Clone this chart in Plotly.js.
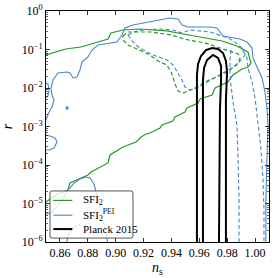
<!DOCTYPE html>
<html>
<head>
<meta charset="utf-8">
<script src="https://cdn.plot.ly/plotly-3.0.1.min.js"></script>
<style>html,body{margin:0;padding:0;background:#fff;}#chart{width:276px;height:278px;}</style>
</head>
<body>
<div id="chart"></div>
<script>
// ---- data (n_s, r) ----
// SFI2, outer (solid) contour
var sfi2Outer_ns = [0.8500,0.8643,0.8751,0.8945,0.8966,0.9052,0.9167,0.9289,0.9368,0.9447,0.9605,0.9655,0.9763,0.9870,0.9949,0.9971,0.9949,0.9906,0.9842,0.9806,0.9763,0.9713,0.9691,0.9605,0.9591,0.9512,0.9497,0.9426,0.9411,0.9332,0.9318,0.9246,0.9217,0.9182,0.9146,0.9052,0.8959,0.8945,0.8823,0.8801,0.8672,0.8658,0.8572,0.8500];
var sfi2Outer_r  = [0.0720,0.103,0.116,0.187,0.268,0.321,0.341,0.321,0.303,0.268,0.211,0.199,0.166,0.123,0.0861,0.0446,0.0351,0.0312,0.0218,0.0143,0.0120,0.0100,0.00658,0.00518,0.00408,0.00303,0.00238,0.00177,0.00139,0.00109,0.000914,0.000678,0.000638,0.000534,0.000396,0.000294,0.000182,0.000113,6.58e-5,5.50e-5,3.41e-5,2.24e-5,1.66e-5,1.09e-5];
// SFI2, inner (dashed) contour
var sfi2Inner_ns = [0.9052,0.9088,0.9174,0.9253,0.9397,0.9519,0.9641,0.9734,0.9835,0.9878,0.9892,0.9878,0.9820,0.9756,0.9655,0.9569,0.9519,0.9483,0.9447,0.9426,0.9404,0.9368,0.9318,0.9232,0.9153,0.9088,0.9052,0.9052];
var sfi2Inner_r  = [0.224,0.285,0.285,0.285,0.238,0.177,0.148,0.116,0.0861,0.0764,0.0601,0.0446,0.0294,0.0218,0.0152,0.0100,0.00836,0.00741,0.00836,0.0127,0.0231,0.0396,0.0473,0.0764,0.103,0.131,0.177,0.224];
// SFI2^PEI, outer (solid) contour, pieces separated by null
var peiOuter_ns = [1.0078,1.0078,1.0085,1.0093,1.0085,1.0071,1.0050,1.0014,0.9985,0.9978,0.9942,0.9892,0.9806,0.9770,0.9748,0.9727,0.9677,0.9605,0.9519,0.9476,0.9447,0.9390,0.9318,0.9246,0.9196,0.9124,0.9067,0.9045,0.9009,0.8959,0.8873,0.8830,0.8801,0.8758,0.8744,0.8722,0.8694,0.8672,0.8651,0.8586,0.8550,0.8536,0.8543,0.8557,0.8543,0.8522,0.8507,0.8486,
  null,0.8493,0.8514,0.8522,0.8514,0.8493,
  null,0.8486,0.8529,0.8565,0.8579,0.8557,0.8522,0.8486,
  null,0.8641,0.8651,0.8661,0.8651,0.8641,
  null,0.8486,0.8543,0.8586,0.8629,0.8658,0.8701,0.8744,0.8787,0.8816,0.8844,0.8859,0.8880,0.8887,0.8902,0.8923,0.8938,0.8945,
  null,0.8644,0.8658,0.8687,0.8744];
var peiOuter_r  = [8.4e-7,1.23e-5,0.000135,0.00109,0.00303,0.00787,0.0182,0.0351,0.0601,0.109,0.157,0.187,0.211,0.224,0.285,0.362,0.384,0.384,0.384,0.433,0.620,0.658,0.584,0.518,0.488,0.433,0.362,0.238,0.157,0.148,0.131,0.0970,0.0638,0.0473,0.0294,0.0193,0.0182,0.0245,0.0260,0.0245,0.0161,0.0100,0.00658,0.00488,0.00321,0.00238,0.00177,0.00109,
  null,0.0135,0.0127,0.00887,0.00619,0.00550,
  null,0.000601,0.000566,0.000503,0.000396,0.000277,0.000245,0.000245,
  null,0.00303,0.00331,0.00303,0.00277,0.00303,
  null,5.02e-6,6.01e-6,9.14e-6,1.48e-5,2.24e-5,3.4e-5,4.33e-5,4.88e-5,4.6e-5,3.21e-5,1.99e-5,1.23e-5,7.64e-6,4.2e-6,2.31e-6,1.27e-6,8.4e-7,
  null,8.4e-7,1.43e-6,2.18e-6,2.94e-6];
// SFI2^PEI, inner (dashed) contour
var peiInner_ns = [0.9088,0.9124,0.9196,0.9318,0.9411,0.9476,0.9533,0.9677,0.9806,0.9856,0.9906,0.9942,0.9949,0.9978,1.0000,1.0014,1.0021,1.0043,1.0057,1.0064,1.0064,
  null,0.9088,0.9124,0.9174,0.9268,0.9368,0.9411,0.9447,0.9476,0.9497,0.9533,0.9583,0.9677,0.9770,0.9870,0.9928,0.9906,
  null,0.9827,0.9820,0.9820,0.9827,0.9842,0.9870,0.9878,0.9885,0.9885];
var peiInner_r  = [0.238,0.285,0.321,0.341,0.321,0.268,0.321,0.285,0.199,0.157,0.109,0.0601,0.0331,0.0143,0.00550,0.00199,0.00109,0.000245,4.08e-5,6.78e-6,8.4e-7,
  null,0.238,0.157,0.109,0.0720,0.0534,0.0396,0.0245,0.0161,0.0106,0.00887,0.0100,0.0161,0.0245,0.0396,0.0720,0.109,
  null,0.0970,0.0534,0.0260,0.0120,0.00433,0.00109,0.000135,1.23e-5,8.4e-7];
// Planck 2015 contours
var planckOuter_ns = [0.9583,0.9583,0.9591,0.9612,0.9648,0.9691,0.9734,0.9770,0.9791,0.9799,0.9791,0.9791];
var planckOuter_r  = [8.4e-7,0.0218,0.0420,0.0678,0.0970,0.109,0.103,0.0811,0.0503,0.0260,0.00488,8.4e-7];
var planckInner_ns = [0.9626,0.9626,0.9634,0.9655,0.9698,0.9734,0.9756,0.9756,0.9748,0.9741];
var planckInner_r  = [8.4e-7,0.0161,0.0331,0.0534,0.0720,0.0601,0.0373,0.0161,0.00268,8.4e-7];

var legendNames = ['SFI<sub>2</sub>', 'SFI<sub>2</sub><sup>PEI</sup>', 'Planck 2015'];
var xTickVals = [0.86,0.88,0.90,0.92,0.94,0.96,0.98,1.00];
var xTickText = ['0.86','0.88','0.90','0.92','0.94','0.96','0.98','1.00'];
var yTickVals = [1e-6,1e-5,1e-4,1e-3,1e-2,1e-1,1];
var yTickText = ['10<sup>\u22126</sup>','10<sup>\u22125</sup>','10<sup>\u22124</sup>','10<sup>\u22123</sup>','10<sup>\u22122</sup>','10<sup>\u22121</sup>','10<sup>0</sup>'];

var GREEN = '#229a22', BLUE = '#4a86c6', BLACK = '#000000';
var DASH = '4px,2.5px';
var legendColors = [GREEN, BLUE, BLACK];
var legendWidths = [1.2, 1.1, 2];

var minorY = [];
for (var e = -6; e < 0; e++) for (var k = 2; k <= 9; k++) minorY.push(k * Math.pow(10, e));

var traces = [
  {x: sfi2Outer_ns, y: sfi2Outer_r, mode: 'lines', line: {color: GREEN, width: 1.2}, name: legendNames[0]},
  {x: sfi2Inner_ns, y: sfi2Inner_r, mode: 'lines', line: {color: GREEN, width: 1.2, dash: DASH}},
  {x: peiOuter_ns, y: peiOuter_r, mode: 'lines', line: {color: BLUE, width: 1.1}, name: legendNames[1]},
  {x: peiInner_ns, y: peiInner_r, mode: 'lines', line: {color: BLUE, width: 1.1, dash: DASH}},
  {x: planckOuter_ns, y: planckOuter_r, mode: 'lines', line: {color: BLACK, width: 2}, name: legendNames[2]},
  {x: planckInner_ns, y: planckInner_r, mode: 'lines', line: {color: BLACK, width: 2}}
];

var serif = 'Liberation Serif, DejaVu Serif, serif';

// legend box drawn in paper coordinates (matplotlib-style framed legend)
var bx0 = 0.018, bx1 = 0.390, by0 = 0.017, by1 = 0.221, rx = 0.009, ry = 0.009;
var boxPath = 'M' + (bx0 + rx) + ',' + by0 + ' L' + (bx1 - rx) + ',' + by0 + ' Q' + bx1 + ',' + by0 + ' ' + bx1 + ',' + (by0 + ry) +
  ' L' + bx1 + ',' + (by1 - ry) + ' Q' + bx1 + ',' + by1 + ' ' + (bx1 - rx) + ',' + by1 +
  ' L' + (bx0 + rx) + ',' + by1 + ' Q' + bx0 + ',' + by1 + ' ' + bx0 + ',' + (by1 - ry) +
  ' L' + bx0 + ',' + (by0 + ry) + ' Q' + bx0 + ',' + by0 + ' ' + (bx0 + rx) + ',' + by0 + ' Z';
var rowY = [0.180, 0.116, 0.056];
var shapes = [{type: 'path', xref: 'paper', yref: 'paper', path: boxPath, fillcolor: 'rgba(255,255,255,0.8)', line: {color: '#555', width: 1}, layer: 'above'}];
var annotations = [];
for (var i = 0; i < 3; i++) {
  shapes.push({type: 'line', xref: 'paper', yref: 'paper', x0: 0.033, x1: 0.118, y0: rowY[i], y1: rowY[i], line: {color: legendColors[i], width: legendWidths[i]}, layer: 'above'});
  annotations.push({xref: 'paper', yref: 'paper', x: 0.158, y: rowY[i], xanchor: 'left', yanchor: 'middle', showarrow: false, text: legendNames[i], font: {family: serif, size: 11, color: '#000'}});
}

var layout = {
  width: 276, height: 278,
  margin: {l: 46, r: 7, t: 11, b: 36, pad: 0},
  paper_bgcolor: '#fff', plot_bgcolor: '#fff',
  font: {family: serif, size: 12, color: '#000'},
  showlegend: false,
  shapes: shapes,
  annotations: annotations,
  xaxis: {
    range: [0.85, 1.01], tickmode: 'array', tickvals: xTickVals, ticktext: xTickText,
    ticks: 'inside', ticklen: 4, tickwidth: 0.8, tickcolor: '#000',
    showline: true, linecolor: '#000', linewidth: 1, mirror: 'allticks',
    showgrid: false, zeroline: false,
    tickfont: {family: serif, size: 12},
    title: {text: '<i>n</i><sub>s</sub>', font: {family: serif, size: 14}, standoff: 2}
  },
  yaxis: {
    type: 'log', range: [-6, 0], tickmode: 'array', tickvals: yTickVals, ticktext: yTickText,
    ticks: 'inside', ticklen: 4, tickwidth: 0.8, tickcolor: '#000',
    minor: {tickmode: 'array', tickvals: minorY, ticks: 'inside', ticklen: 2, tickwidth: 0.6, tickcolor: '#000', showgrid: false},
    showline: true, linecolor: '#000', linewidth: 1, mirror: 'allticks',
    showgrid: false, zeroline: false,
    tickfont: {family: serif, size: 12},
    title: {text: '<i>r</i>', font: {family: serif, size: 14}, standoff: 6}
  }
};

Plotly.newPlot('chart', traces, layout, {displayModeBar: false, staticPlot: true});
</script>
</body>
</html>
